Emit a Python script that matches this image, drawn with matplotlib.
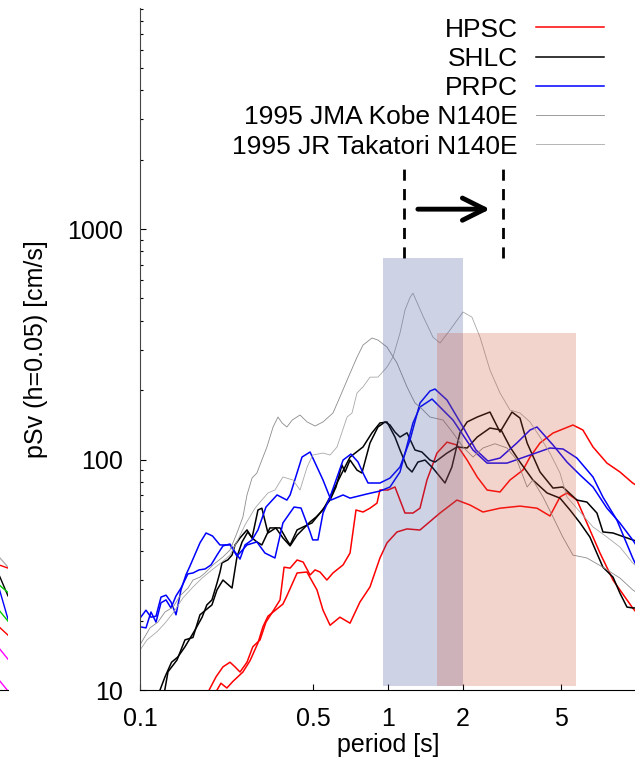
import numpy as np
from matplotlib import pyplot as plt
from matplotlib.ticker import NullLocator, LogLocator, NullFormatter

plt.rcParams['font.family'] = ['Liberation Sans', 'DejaVu Sans']

# pseudo velocity response spectra
# HPSC (two components)
hpsc1_T = [0.1846, 0.190, 0.2025, 0.216, 0.2306, 0.2416, 0.2531, 0.270, 0.285, 0.3048,
           0.322, 0.344, 0.367, 0.381, 0.403, 0.430, 0.455, 0.485, 0.508, 0.532,
           0.567, 0.600, 0.659, 0.703, 0.743, 0.793, 0.846, 0.903, 0.928, 1.0,
           1.067, 1.118, 1.171, 1.261, 1.346, 1.436, 1.576, 1.73, 1.897, 2.085,
           2.29, 2.51, 2.83, 3.105, 3.50, 3.74, 4.103, 4.63, 5.57, 6.11,
           6.71, 7.64, 8.62, 9.7, 10.0]
hpsc1_sv = [9.3, 10.0, 11.4, 12.6, 13.2, 12.6, 11.97, 13.2, 15.4, 16.5,
            19.7, 22.0, 24.6, 34.1, 33.8, 36.65, 35.9, 31.55, 33.2, 32.5,
            30.0, 32.2, 34.9, 39.3, 60.4, 59.2, 61.5, 64.7, 73.75, 73.75,
            76.0, 66.7, 58.6, 58.6, 61.5, 81.5, 106.7, 119, 115.6, 99.5,
            84.0, 73.75, 72.3, 81.5, 90.0, 102.5, 118, 130.3, 141.2, 134.3,
            113.4, 96.5, 88.3, 79.1, 77.5]

hpsc2_T = [0.199, 0.2044, 0.212, 0.224, 0.237, 0.260, 0.2777, 0.299, 0.313, 0.328,
           0.357, 0.377, 0.391, 0.430, 0.471, 0.517, 0.547, 0.584, 0.640, 0.703,
           0.771, 0.846, 0.928, 0.991, 1.087, 1.193, 1.346, 1.621, 1.897, 2.141,
           2.415, 2.83, 3.407, 3.99, 4.50, 4.94, 5.27, 5.78, 6.34, 7.16,
           8.08, 9.2, 9.7, 10.0]
hpsc2_sv = [9.3, 10.0, 10.7, 10.2, 10.9, 11.97, 13.4, 16.0, 18.8, 20.9,
            22.5, 23.6, 25.6, 32.2, 32.5, 27.2, 22.2, 19.1, 20.7, 19.5,
            24.1, 28.0, 37.4, 43.5, 48.5, 50.0, 49.45, 58.6, 66.7, 63.5,
            59.2, 61.5, 62.8, 61.5, 56.9, 68.8, 71.6, 66.7, 53.1, 39.3,
            30.0, 24.6, 22.7, 21.8]

# SHLC (two components)
shlc1_T = [0.1172, 0.1204, 0.1261, 0.134, 0.142, 0.1518, 0.1666, 0.178, 0.186, 0.195,
           0.2044, 0.2102, 0.214, 0.226, 0.235, 0.2416, 0.2531, 0.270, 0.283, 0.299,
           0.310, 0.328, 0.353, 0.377, 0.403, 0.430, 0.485, 0.513, 0.547, 0.584,
           0.652, 0.703, 0.793, 0.862, 0.928, 0.991, 1.067, 1.118, 1.193, 1.250,
           1.32, 1.41, 1.518, 1.698, 1.81, 1.951, 2.085, 2.29, 2.578, 2.83,
           3.163, 3.407, 3.64, 4.103, 4.63, 5.07, 5.78, 6.34, 6.96, 7.36,
           8.08, 9.2, 9.7, 10.0]
shlc1_sv = [9.3, 10.0, 11.4, 13.2, 13.9, 15.4, 18.2, 20.7, 23.4, 24.6,
            29.1, 32.5, 35.6, 36.7, 38.5, 42.6, 45.7, 49.5, 45.7, 60.4,
            61.5, 48.0, 50.5, 45.7, 42.2, 47.0, 53.6, 56.3, 60.4, 68.8,
            87.4, 102.5, 113.4, 130.6, 144.1, 145.6, 125.2, 110, 92.8, 88.3,
            97.5, 99.5, 91.8, 79.1, 92.8, 130.6, 145.6, 152.9, 160.7, 131.6,
            160.7, 151.3, 118, 88.3, 75.2, 76.0, 66.7, 65.4, 58.6, 48.5,
            48.0, 45.7, 44.8, 44.3]

shlc2_T = [0.1238, 0.1297, 0.1410, 0.1518, 0.1635, 0.1745, 0.195, 0.2044, 0.216, 0.235,
           0.246, 0.258, 0.272, 0.283, 0.296, 0.310, 0.334, 0.367, 0.391, 0.403,
           0.430, 0.455, 0.494, 0.532, 0.584, 0.617, 0.652, 0.671, 0.703, 0.750,
           0.785, 0.846, 0.911, 0.973, 1.019, 1.067, 1.118, 1.193, 1.285, 1.37,
           1.477, 1.547, 1.73, 1.90, 2.085, 2.29, 2.578, 2.86, 3.105, 3.407,
           3.84, 4.38, 4.94, 5.42, 5.95, 6.52, 7.36, 8.08, 8.62, 9.2,
           9.7, 10.0]
shlc2_sv = [9.05, 12.0, 13.5, 16.5, 16.9, 21.2, 23.4, 27.2, 30.0, 27.7,
            37.8, 43.9, 48.5, 45.7, 43.9, 42.6, 50.5, 50.5, 44.8, 42.6,
            49.5, 51.0, 53.1, 58.6, 66.7, 76.0, 94.7, 88.3, 99.5, 90.0,
            87.4, 118, 138.4, 145.6, 141.2, 131.6, 125.2, 130.6, 110, 107.8,
            99.5, 97.5, 106.7, 113.4, 112.2, 125.2, 137, 134.3, 113.4, 97.5,
            81.5, 71.6, 68.0, 60.4, 53.1, 46.1, 34.1, 30.9, 26.3, 22.9,
            22.7, 22.7]

# PRPC (two components)
prpc1_T = [0.100, 0.1057, 0.1107, 0.116, 0.1215, 0.1273, 0.1333, 0.1397, 0.1463, 0.1532,
           0.159, 0.1745, 0.1846, 0.196, 0.210, 0.231, 0.246, 0.270, 0.296, 0.319,
           0.350, 0.377, 0.418, 0.446, 0.485, 0.497, 0.522, 0.547, 0.584, 0.659,
           0.709, 0.757, 0.800, 0.831, 0.928, 1.019, 1.118, 1.227, 1.346, 1.477,
           1.547, 1.73, 2.007, 2.264, 2.53, 2.83, 3.31, 3.74, 3.99, 4.63,
           5.27, 5.95, 6.71, 7.64, 8.62, 9.7, 10.0]
prpc1_sv = [20.5, 22.2, 20.7, 20.9, 25.3, 25.8, 24.1, 21.2, 27.2, 31.6,
            34.5, 43.5, 48.0, 46.6, 42.6, 42.6, 38.1, 42.6, 43.9, 39.3,
            37.4, 53.1, 62.2, 61.6, 48.5, 44.8, 44.8, 58.6, 68.8, 99.5,
            105.6, 97.6, 85.7, 79.1, 79.1, 83.1, 92.8, 121.5, 175.9, 198.3,
            202.3, 181.2, 138.4, 110, 98.5, 101.5, 118, 134.3, 138.4, 115.6,
            97.5, 85.7, 76.0, 61.5, 53.0, 44.8, 42.6]

prpc2_T = [0.100, 0.1057, 0.1107, 0.116, 0.1215, 0.1273, 0.1333, 0.1397, 0.1463, 0.156,
           0.1636, 0.173, 0.1829, 0.1934, 0.2044, 0.216, 0.2306, 0.2416, 0.2531, 0.2651,
           0.283, 0.299, 0.322, 0.357, 0.391, 0.403, 0.450, 0.485, 0.547, 0.589,
           0.659, 0.703, 0.823, 0.928, 1.019, 1.118, 1.261, 1.346, 1.505, 1.828,
           2.202, 2.51, 3.02, 3.74, 4.50, 5.08, 5.78, 6.71, 7.36, 8.38,
           9.7, 10.0]
prpc2_sv = [18.8, 18.6, 21.8, 19.7, 23.9, 24.6, 22.7, 25.6, 27.7, 31.9,
            32.2, 33.2, 33.5, 34.9, 38.5, 42.2, 43.0, 39.7, 37.0, 42.6,
            44.8, 49.5, 62.2, 70.2, 66.7, 70.2, 102.5, 107.8, 81.5, 66.7,
            70.2, 68.0, 70.9, 73.0, 76.0, 88.3, 144.1, 169.0, 183, 148.4,
            110, 96.5, 96.5, 104.6, 112.2, 111.1, 101.5, 84.0, 68.7, 54.6,
            37.4, 34.9]

# 1995 Hyogo-ken Nanbu records
kobe_T = [0.100, 0.1097, 0.118, 0.1261, 0.136, 0.1449, 0.1562, 0.1636, 0.1745, 0.1829,
          0.197, 0.216, 0.2306, 0.246, 0.260, 0.270, 0.283, 0.296, 0.310, 0.325,
          0.344, 0.360, 0.374, 0.391, 0.411, 0.4418, 0.472, 0.508, 0.547, 0.600,
          0.640, 0.690, 0.750, 0.793, 0.862, 0.911, 0.991, 1.087, 1.193, 1.285,
          1.346, 1.477, 1.667, 1.828, 2.007, 2.202, 2.415, 2.70, 3.02, 3.31,
          3.64, 3.84, 4.22, 4.63, 5.07, 5.57, 6.34, 7.36, 8.62, 9.7,
          10.0]
kobe_sv = [15.7, 18.6, 19.7, 21.8, 22.9, 25.6, 27.7, 30.0, 30.9, 32.2,
           34.9, 37.8, 40.5, 48.0, 56.3, 70.2, 83.1, 87.4, 99.5, 113.4,
           138.4, 152.9, 144.1, 138.4, 148.4, 156, 145.6, 139.8, 145.6, 159.2,
           186.7, 226, 278, 313.8, 336.7, 329.9, 307.6, 262.3, 206.6, 175.9,
           169, 152.9, 148.4, 130.6, 113.4, 102.5, 112.2, 117.1, 112.2, 99.5,
           76.0, 81.5, 68.8, 56.3, 46.1, 38.5, 37.4, 34.1, 30.6, 27.2,
           26.6]

takatori_T = [0.100, 0.1067, 0.1171, 0.1261, 0.136, 0.149, 0.1636, 0.178, 0.195, 0.214,
              0.2306, 0.248, 0.2651, 0.2909, 0.310, 0.328, 0.350, 0.377, 0.414, 0.4418,
              0.472, 0.497, 0.547, 0.584, 0.623, 0.684, 0.716, 0.750, 0.793, 0.846,
              0.911, 0.991, 1.047, 1.118, 1.171, 1.227, 1.261, 1.385, 1.518, 1.621,
              1.778, 2.007, 2.18, 2.35, 2.578, 2.83, 3.105, 3.407, 3.738, 4.103,
              4.50, 4.94, 5.27, 5.95, 6.71, 7.64, 8.62, 9.7, 10.0]
takatori_sv = [14.9, 16.5, 17.9, 19.5, 21.6, 25.1, 28.0, 30.6, 33.2, 35.9,
               38.5, 44.8, 52.0, 61.5, 66.7, 71.6, 73.75, 84.0, 81.5, 73.75,
               92.8, 104.6, 106.7, 104.6, 113.4, 152.9, 159.2, 194.4, 206.6, 227.8,
               227.8, 251.8, 278.3, 353.8, 445.3, 505, 527, 418.4, 339.9, 320.2,
               364.6, 436.6, 415, 339.9, 244.5, 194.4, 164, 159.2, 145.6, 125.2,
               106.7, 87.4, 68.8, 59.2, 51.0, 46.1, 41.7, 35.6, 34.5]

# period bands and the shift marker
band_short = [0.955, 2.0]
band_short_top = 750
band_long = [1.58, 5.73]
band_long_top = 354
band_bottom = 10.4
shift_from = 1.16
shift_to = 2.9
shift_lo, shift_hi = 750, 1950
arrow_x = [1.32, 2.58]
arrow_y = 1220

# tail ends of the neighbouring panel (cut off at the left edge)
nb_T = [9.2, 10.0]
nb_lines = [('#b0b0b0', [37.8, 34.1]), ('red', [34.9, 33.8]), ('black', [31.6, 25.6]),
            ('#00cc00', [28.6, 26.5]), ('blue', [27.7, 20.3]), ('#00cc00', [22.2, 19.9]),
            ('red', [18.8, 17.3]), ('magenta', [15.2, 13.6]), ('magenta', [11.05, 9.9])]

fig = plt.figure(figsize=(6.35, 7.58), dpi=100)

nb = fig.add_axes([(8 - 496) / 635, 0.0897, 496 / 635, 0.8997])
for c, v in nb_lines:
    nb.plot(nb_T, v, color=c, lw=1.0)
nb.set_xscale('log')
nb.set_yscale('log')
nb.set_xlim(0.1, 10)
nb.set_ylim(10, 9100)
nb.set_xticks([])
nb.set_yticks([])
nb.minorticks_off()
for s in ['top', 'right', 'left']:
    nb.spines[s].set_visible(False)

ax = fig.add_axes([0.2205, 0.0897, 0.781, 0.8997])

ax.plot(hpsc1_T, hpsc1_sv, color='red', lw=1.1, label='HPSC')
ax.plot(hpsc2_T, hpsc2_sv, color='red', lw=1.1)
ax.plot(shlc1_T, shlc1_sv, color='black', lw=1.1, label='SHLC')
ax.plot(shlc2_T, shlc2_sv, color='black', lw=1.1)
ax.plot(prpc1_T, prpc1_sv, color='blue', lw=1.1, label='PRPC')
ax.plot(prpc2_T, prpc2_sv, color='blue', lw=1.1)
ax.plot(kobe_T, kobe_sv, color='#8c8c8c', lw=0.6, label='1995 JMA Kobe N140E')
ax.plot(takatori_T, takatori_sv, color='#a8a8a8', lw=0.6, label='1995 JR Takatori N140E')

ax.fill_between(band_short, band_bottom, band_short_top, color='#3a4f9a', alpha=0.25,
                lw=0, zorder=3)
ax.fill_between(band_long, band_bottom, band_long_top, color='#d0553a', alpha=0.25,
                lw=0, zorder=3)

for xx in [shift_from, shift_to]:
    ax.plot([xx, xx], [shift_lo, shift_hi], color='black', lw=2, dashes=(4, 3))
ax.annotate('', xy=(arrow_x[1], arrow_y), xytext=(arrow_x[0], arrow_y),
            arrowprops=dict(arrowstyle='->,head_length=0.8,head_width=0.4', lw=3.5,
                            color='black', shrinkA=0, shrinkB=0, mutation_scale=20))

ax.set_xscale('log')
ax.set_yscale('log')
ax.set_xlim(0.1, 10)
ax.set_ylim(10, 9100)

ax.set_xticks([0.1, 0.5, 1, 2, 5])
ax.set_xticklabels(['0.1', '0.5', '1', '2', '5'])
ax.xaxis.set_minor_locator(NullLocator())
ax.set_yticks([10, 100, 1000])
ax.set_yticklabels(['10', '100', '1000'])
ax.yaxis.set_minor_locator(LogLocator(base=10, subs=np.arange(2, 10)))
ax.yaxis.set_minor_formatter(NullFormatter())
ax.tick_params(which='both', direction='in', labelsize=18, pad=12, width=0.8)
ax.tick_params(which='major', length=4)
ax.tick_params(which='minor', length=2.5)

ax.spines['top'].set_visible(False)
ax.spines['right'].set_visible(False)
ax.spines['left'].set_color('#444444')

ax.set_xlabel('period [s]', fontsize=18, labelpad=2)
ax.set_ylabel('pSv (h=0.05) [cm/s]', fontsize=18, labelpad=14)

ax.legend(loc='upper right', bbox_to_anchor=(0.9355, 0.986), frameon=False, fontsize=19,
          markerfirst=False, handlelength=2.58, handletextpad=0.68, labelspacing=0.2,
          borderaxespad=0, borderpad=0)

plt.savefig('out.png', dpi=100)
